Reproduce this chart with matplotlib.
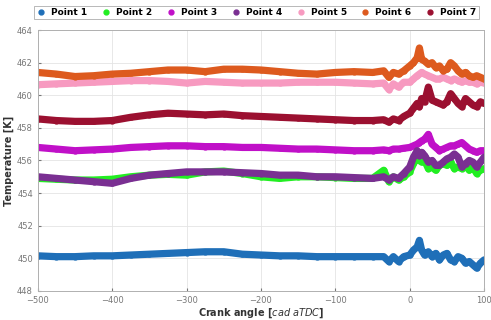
import numpy as np
import matplotlib.pyplot as plt

# crank angle points (coarse far from TDC, finer near it)
angle = [-500, -475, -450, -425, -400, -375, -350, -325, -300, -275, -250, -225,
         -200, -175, -150, -125, -100, -75, -50, -35, -28, -22, -15, -8, 0,
         5, 10, 13, 16, 20, 25, 30, 35, 40, 45, 50, 55, 60, 65, 70, 75, 80,
         85, 90, 95, 100]

p1 = [450.15, 450.1, 450.1, 450.15, 450.15, 450.2, 450.25, 450.3, 450.35, 450.4, 450.4, 450.25,
      450.2, 450.15, 450.15, 450.1, 450.1, 450.1, 450.1, 450.1, 449.8, 450.1, 449.8, 450.1, 450.2,
      450.5, 450.7, 451.1, 450.5, 450.2, 450.4, 450.1, 450.3, 449.9, 450.2, 450.3, 449.9, 449.8, 450.1, 450.0, 449.7, 449.8,
      449.6, 449.4, 449.7, 449.9]
p2 = [454.9, 454.85, 454.8, 454.8, 454.85, 455.0, 455.1, 455.15, 455.1, 455.3, 455.35, 455.2,
      455.0, 454.9, 455.0, 455.0, 454.95, 454.9, 454.9, 455.4, 454.7, 455.0, 454.8, 455.0, 455.3,
      455.8, 456.2, 456.0, 455.9, 456.0, 455.5, 455.6, 455.4, 455.7, 455.8, 455.7, 455.9, 455.5, 455.6, 455.5, 455.7, 455.4,
      455.6, 455.2, 455.4, 455.5]
p3 = [456.8, 456.7, 456.6, 456.65, 456.7, 456.8, 456.85, 456.9, 456.9, 456.85, 456.85, 456.8,
      456.8, 456.75, 456.7, 456.7, 456.65, 456.6, 456.6, 456.65, 456.6, 456.7, 456.7, 456.75, 456.8,
      456.9, 457.0, 457.1, 457.2, 457.3, 457.6, 457.0, 456.8, 456.6, 456.7, 456.8, 456.9, 456.9, 457.0, 457.1, 456.9, 456.7,
      456.6, 456.5, 456.6, 456.6]
p4 = [455.0, 454.9, 454.8, 454.7, 454.6, 454.9, 455.1, 455.2, 455.3, 455.3, 455.3, 455.25,
      455.2, 455.1, 455.1, 455.0, 455.0, 454.95, 454.9, 455.0, 454.8, 455.0, 454.9, 455.2, 455.6,
      456.2, 456.6, 456.3, 456.5, 456.3, 455.9, 456.0, 455.7, 455.7, 455.9, 456.1, 456.2, 456.4, 456.2, 455.6, 455.8, 456.0,
      455.9, 455.6, 455.9, 456.2]
p5 = [460.65, 460.7, 460.75, 460.8, 460.85, 460.9, 460.9, 460.85, 460.75, 460.85, 460.8, 460.75,
      460.75, 460.75, 460.8, 460.8, 460.8, 460.75, 460.7, 460.75, 460.35, 460.7, 460.5, 460.8, 460.8,
      461.0, 461.2, 461.3, 461.4, 461.3, 461.2, 461.1, 461.0, 461.0, 461.1, 461.0, 460.9, 461.0, 460.9, 460.8, 460.9, 460.8,
      460.8, 460.7, 460.8, 460.75]
p6 = [461.4, 461.3, 461.15, 461.2, 461.3, 461.35, 461.45, 461.55, 461.55, 461.45, 461.6, 461.6,
      461.55, 461.45, 461.35, 461.3, 461.4, 461.45, 461.4, 461.5, 461.1, 461.4, 461.3, 461.5, 461.8,
      462.0, 462.3, 462.9, 462.2, 462.1, 461.9, 462.0, 461.7, 461.8, 461.5, 461.6, 462.0, 461.8, 461.5, 461.3, 461.4, 461.2,
      461.1, 461.2, 461.1, 461.0]
p7 = [458.55, 458.45, 458.4, 458.4, 458.45, 458.65, 458.8, 458.9, 458.85, 458.8, 458.85, 458.75,
      458.7, 458.65, 458.6, 458.55, 458.5, 458.45, 458.45, 458.5, 458.35, 458.55, 458.45, 458.7, 458.9,
      459.2, 459.5, 459.3, 459.8, 459.6, 460.5, 459.7, 459.6, 459.5, 459.4, 459.6, 460.1, 459.8, 459.5, 459.3, 459.8, 459.6,
      459.4, 459.3, 459.6, 459.5]

series = [p1, p2, p3, p4, p5, p6, p7]
names = ['Point 1', 'Point 2', 'Point 3', 'Point 4', 'Point 5', 'Point 6', 'Point 7']
colors = ['#1f6fb8', '#22ee22', '#c010c8', '#7a2f92', '#f79ac0', '#dd5a1e', '#9b1030']

fig = plt.figure(figsize=(4.91, 3.2), dpi=100)
ax = fig.add_axes([0.077, 0.091, 0.909, 0.815])

for vals, nm, c in zip(series, names, colors):
    ax.plot(angle, vals, color=c, lw=5.2, solid_capstyle='round',
            solid_joinstyle='round', marker='o', ms=3.5, label=nm)

ax.set_xlim(-500, 100)
ax.set_ylim(448, 464)
ax.set_xticks(np.arange(-500, 101, 100))
ax.set_yticks(np.arange(448, 465, 2))
ax.grid(True, color='#e4e4e4', lw=0.6)
ax.tick_params(labelsize=6, colors='#777777', length=2, direction='in')
for s in ax.spines.values():
    s.set_color('#b0b0b0')
    s.set_linewidth(0.7)

ax.set_xlabel('Crank angle [$\\it{cad\\ aTDC}$]', fontsize=7, fontweight='bold', color='#333333', labelpad=1)
ax.set_ylabel('Temperature [K]', fontsize=7, fontweight='bold', color='#333333', labelpad=2)

leg = fig.legend(loc='lower left', bbox_to_anchor=(0.061, 0.925, 0.923, 0.05), mode='expand',
                 ncol=7, prop={'weight': 'bold', 'size': 6.5}, frameon=True,
                 handlelength=1.0, handletextpad=0.6, borderpad=0.25, columnspacing=0.8)
leg.get_frame().set_edgecolor('#999999')
leg.get_frame().set_linewidth(0.6)
leg.get_frame().set_boxstyle('square', pad=0)
for h in leg.legend_handles:
    h.set_linestyle('')
    h.set_markersize(3.5)

fig.savefig('out.png', dpi=100)
